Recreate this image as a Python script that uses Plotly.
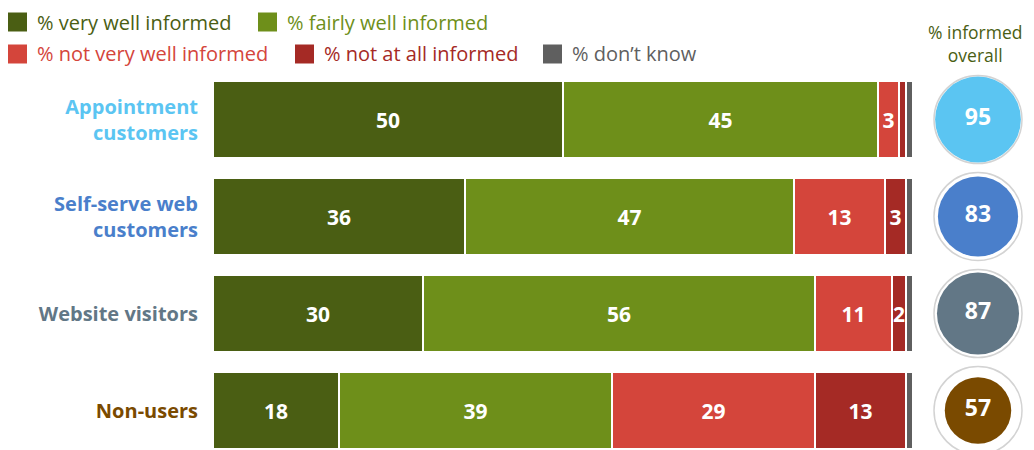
import math
import plotly.graph_objects as go

# rows (top to bottom)
group_labels = ["Appointment<br>customers", "Self-serve web<br>customers", "Website visitors", "Non-users"]
group_colors = ["#5bc5f2", "#4a7fcb", "#627786", "#7a4a00"]

series_names = ["% very well informed", "% fairly well informed", "% not very well informed",
                "% not at all informed", "% don\u2019t know"]
series_colors = ["#4a5e13", "#6e8f1a", "#d4453b", "#a52a25", "#5f5f5f"]

very_well = [50, 36, 30, 18]
fairly_well = [45, 47, 56, 39]
not_very_well = [3, 13, 11, 29]
not_at_all = [1, 3, 2, 13]
dont_know = [1, 1, 1, 1]

informed_overall = [95, 83, 87, 57]

series_values = [very_well, fairly_well, not_very_well, not_at_all, dont_know]
ys = list(range(len(group_labels)))

FONT = "Open Sans"
# the page puts the figure 8px in from the top-left corner
OFF = 8
W, H = 1034 - OFF, 450 - OFF
ML, MT = 213 - OFF, 71 - OFF
PW, PH = W - ML, H - MT


def px_x(px):
    # page pixel -> paper x
    return (px - OFF - ML) / PW


def px_y(py):
    # page pixel -> paper y
    return (H - (py - OFF)) / PH


# y range so rows sit 97px apart with the top row centred at page y=119.5
ROW = 97
y_top = -0.5
y_bottom = y_top + PH / ROW

fig = go.Figure()

for name, color, vals in zip(series_names, series_colors, series_values):
    fig.add_trace(go.Bar(
        orientation="h", y=ys, x=vals, name=name, width=0.79,
        marker=dict(color=color, line=dict(color="white", width=2)),
        text=[str(v) if v >= 2 else "" for v in vals],
        textposition="inside", insidetextanchor="middle", textangle=0,
        textfont=dict(family=FONT, size=21, color="white", weight="bold"),
        hoverinfo="skip",
    ))

# circles: outer ring = 100%, filled area proportional to % informed
fig.add_trace(go.Scatter(
    x=[0] * len(ys), y=ys, xaxis="x2", yaxis="y", mode="markers",
    marker=dict(size=88, color="white", opacity=1, line=dict(color="#d3d3d3", width=1.5)),
    cliponaxis=False, hoverinfo="skip",
))
fig.add_trace(go.Scatter(
    x=[0] * len(ys), y=ys, xaxis="x2", yaxis="y", mode="markers+text",
    marker=dict(size=[88 * math.sqrt(v / 100) for v in informed_overall],
                color=group_colors, opacity=1, line=dict(width=0)),
    text=[str(v) for v in informed_overall], textposition="middle center",
    textfont=dict(family=FONT, size=23, color="white", weight="bold"),
    cliponaxis=False, hoverinfo="skip",
))

# custom legend
legend_pos = [(8, 22), (258, 22), (8, 54), (295, 54), (543, 54)]
shapes = []
annotations = []
for (lx, ly), name, color in zip(legend_pos, series_names, series_colors):
    shapes.append(dict(type="rect", xref="paper", yref="paper",
                       x0=px_x(lx), x1=px_x(lx + 19), y0=px_y(ly - 9.5), y1=px_y(ly + 9.5),
                       fillcolor=color, line=dict(width=0)))
    annotations.append(dict(xref="paper", yref="paper", x=px_x(lx + 27), y=px_y(ly),
                            xanchor="left", yanchor="middle", showarrow=False,
                            text=name, font=dict(family=FONT, size=20, color=color)))

annotations.append(dict(xref="x2", yref="paper", x=0, y=1, xanchor="center", yanchor="bottom",
                        xshift=-3, yshift=2, showarrow=False, text="% informed<br>overall",
                        font=dict(family=FONT, size=17.5, color="#4a5e13")))

fig.update_layout(
    width=W, height=H,
    margin=dict(l=ML, r=0, t=MT, b=0, pad=0, autoexpand=False),
    paper_bgcolor="white", plot_bgcolor="white",
    barmode="stack", showlegend=False,
    uniformtext=dict(minsize=21, mode="show"),
    xaxis=dict(domain=[0, 700 / PW], range=[0, 100], visible=False),
    xaxis2=dict(domain=[px_x(928), px_x(1028)], range=[-1, 1], visible=False, anchor="y"),
    yaxis=dict(range=[y_bottom, y_top], tickmode="array", tickvals=ys, automargin=False,
               ticktext=[f"<span style='color:{c}'>{t}</span>" for t, c in zip(group_labels, group_colors)],
               tickfont=dict(family=FONT, size=20, weight="bold"),
               showgrid=False, zeroline=False, showline=False, ticks="",
               ticklabelstandoff=14),
    shapes=shapes, annotations=annotations,
)

fig.write_html("out.html")
